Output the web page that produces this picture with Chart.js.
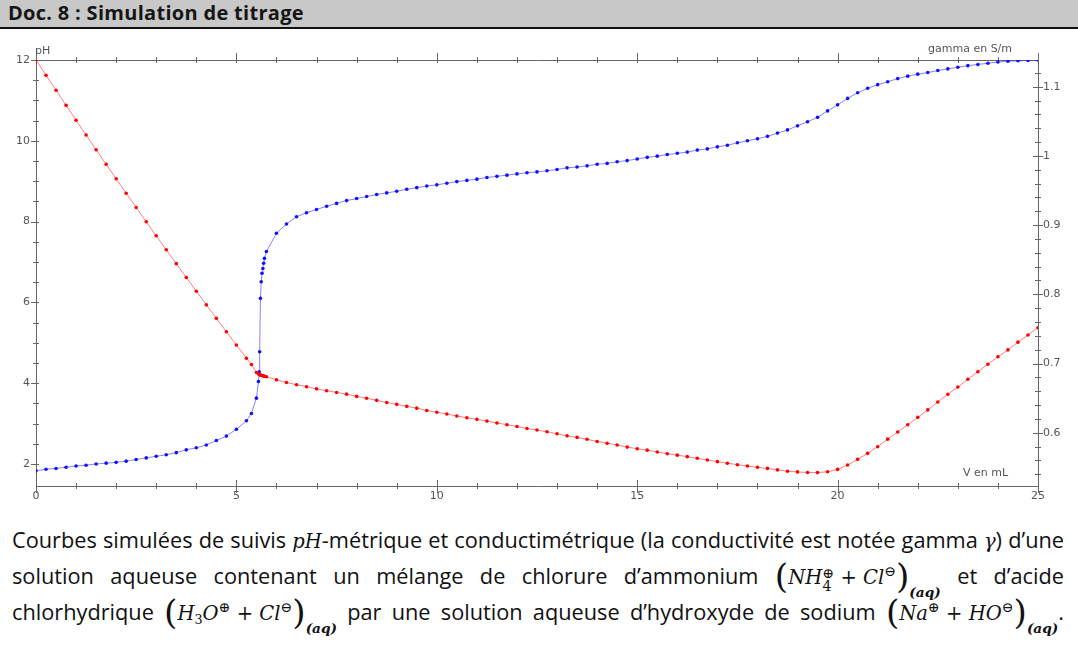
<!DOCTYPE html>
<html lang="fr">
<head>
<meta charset="utf-8">
<title>Doc. 8 : Simulation de titrage</title>
<script src="https://cdn.jsdelivr.net/npm/chart.js@4.4.1/dist/chart.umd.min.js"></script>
<style>
    html, body { margin: 0; padding: 0; background: #fff; }
    body { width: 1078px; height: 647px; position: relative; overflow: hidden; font-family: "Open Sans", Lato, sans-serif; }
    .doc-header { position: absolute; left: 0; top: 0; width: 1078px; height: 27px; background: #c8c8c8; border-bottom: 2px solid #111; }
    .doc-header span { position: absolute; left: 8px; top: -1px; font-weight: 700; font-size: 20px; color: #151515; letter-spacing: 0.3px; }
    #chart-box { position: absolute; left: 0; top: 32px; width: 1078px; height: 478px; }
    .axis-title { position: absolute; font-family: "DejaVu Sans", sans-serif; font-size: 11px; color: #555; white-space: nowrap; line-height: 13px; }
    .caption { position: absolute; left: 12px; top: 522px; width: 1052px; font-size: 19px; color: #111; }
    .caption .line { height: 36px; line-height: 36px; text-align: justify; text-align-last: justify; }
    .m { font-family: "DejaVu Serif", serif; font-style: italic; font-size: 0.9em; }
    .math { display: inline-block; white-space: nowrap; font-family: "DejaVu Serif", serif; font-size: 0.9em; }
    .math i { font-style: italic; }
    .p { font-size: 1.75em; font-weight: 300; vertical-align: -0.12em; line-height: 0; }
    .math sup { font-size: 0.72em; vertical-align: 0.55em; line-height: 0; }
    .math sub { font-size: 0.65em; vertical-align: -0.3em; line-height: 0; }
    .aq { font-size: 0.7em; font-style: italic; font-weight: 700; vertical-align: -0.95em; line-height: 0; }
    .ss { display: inline-flex; flex-direction: column; vertical-align: 0.45em; line-height: 0.8em; font-size: 0.72em; }
    .ss span { height: 0.95em; }
</style>
</head>
<body>
<div class="doc-header"><span>Doc. 8 : Simulation de titrage</span></div>

<div id="chart-box"><canvas id="titrage-chart" width="1078" height="478"></canvas></div>
<div class="axis-title" style="left:35px; top:44px;">pH</div>
<div class="axis-title" style="left:928px; top:42px;">gamma en S/m</div>
<div class="axis-title" style="left:963px; top:466px;">V en mL</div>

<div class="caption">
    <div class="line">Courbes simulées de suivis <span class="m">pH</span>-métrique et conductimétrique (la conductivité est notée gamma <span class="m">γ</span>) d’une</div>
    <div class="line">solution aqueuse contenant un mélange de chlorure d’ammonium <span class="math"><span class="p">(</span><i>NH</i><span class="ss"><span>⊕</span><span>4</span></span> + <i>Cl</i><sup>⊖</sup><span class="p">)</span><span class="aq">(aq)</span></span> et d’acide</div>
    <div class="line">chlorhydrique <span class="math"><span class="p">(</span><i>H</i><sub>3</sub><i>O</i><sup>⊕</sup> + <i>Cl</i><sup>⊖</sup><span class="p">)</span><span class="aq">(aq)</span></span> par une solution aqueuse d’hydroxyde de sodium <span class="math"><span class="p">(</span><i>Na</i><sup>⊕</sup> + <i>HO</i><sup>⊖</sup><span class="p">)</span><span class="aq">(aq)</span></span>.</div>
</div>

<script>
// Data
const volumes = [0, 0.25, 0.5, 0.75, 1, 1.25, 1.5, 1.75, 2, 2.25, 2.5, 2.75, 3, 3.25, 3.5, 3.75, 4, 4.25, 4.5, 4.75, 5, 5.25,
    5.375, 5.5, 5.55, 5.57, 5.58, 5.6, 5.62, 5.64, 5.66, 5.68, 5.7, 5.75,
    6, 6.25, 6.5, 6.75, 7, 7.25, 7.5, 7.75, 8, 8.25, 8.5, 8.75, 9, 9.25, 9.5, 9.75,
    10, 10.25, 10.5, 10.75, 11, 11.25, 11.5, 11.75, 12, 12.25, 12.5, 12.75, 13, 13.25, 13.5, 13.75, 14, 14.25, 14.5, 14.75,
    15, 15.25, 15.5, 15.75, 16, 16.25, 16.5, 16.75, 17, 17.25, 17.5, 17.75, 18, 18.25, 18.5, 18.75, 19, 19.25, 19.5, 19.75,
    20, 20.25, 20.5, 20.75, 21, 21.25, 21.5, 21.75, 22, 22.25, 22.5, 22.75, 23, 23.25, 23.5, 23.75, 24, 24.25, 24.5, 24.75, 25];

const phValues = [1.83, 1.87, 1.89, 1.92, 1.95, 1.97, 2.00, 2.02, 2.04, 2.07, 2.11, 2.15, 2.19, 2.23, 2.28, 2.35, 2.40, 2.47, 2.58, 2.69, 2.86, 3.07,
    3.25, 3.63, 4.04, 4.28, 4.78, 6.10, 6.51, 6.72, 6.84, 6.97, 7.09, 7.26,
    7.71, 7.94, 8.12, 8.22, 8.30, 8.38, 8.45, 8.52, 8.57, 8.62, 8.67, 8.71, 8.75, 8.80, 8.84, 8.88,
    8.91, 8.95, 8.99, 9.02, 9.05, 9.09, 9.12, 9.15, 9.18, 9.21, 9.23, 9.26, 9.29, 9.33, 9.35, 9.38, 9.42, 9.44, 9.48, 9.51,
    9.55, 9.59, 9.62, 9.66, 9.69, 9.72, 9.77, 9.80, 9.85, 9.89, 9.95, 10.00, 10.05, 10.11, 10.19, 10.27, 10.37, 10.47, 10.58, 10.74,
    10.89, 11.05, 11.19, 11.30, 11.39, 11.46, 11.54, 11.60, 11.65, 11.69, 11.74, 11.78, 11.82, 11.86, 11.89, 11.92, 11.95, 11.97, 11.98, 11.99, 12.00];

const gammaValues = [1.1386, 1.1166, 1.0948, 1.0731, 1.0516, 1.0302, 1.0090, 0.9879, 0.9669, 0.9461, 0.9255, 0.9049, 0.8846, 0.8643, 0.8443, 0.8243, 0.8045, 0.7848, 0.7653, 0.7460, 0.7267, 0.7077,
    0.6985, 0.6870, 0.6852, 0.6843, 0.6838, 0.6833, 0.6829, 0.6826, 0.6823, 0.6820, 0.6817, 0.6808,
    0.6764, 0.6725, 0.6694, 0.6665, 0.6634, 0.6607, 0.6582, 0.6557, 0.6525, 0.6497, 0.6468, 0.6436, 0.6410, 0.6381, 0.6355, 0.6322,
    0.6295, 0.6270, 0.6242, 0.6217, 0.6193, 0.6168, 0.6141, 0.6116, 0.6089, 0.6060, 0.6039, 0.6013, 0.5984, 0.5955, 0.5932, 0.5905, 0.5874, 0.5848, 0.5823, 0.5792,
    0.5769, 0.5748, 0.5721, 0.5697, 0.5676, 0.5654, 0.5630, 0.5606, 0.5582, 0.5559, 0.5538, 0.5519, 0.5500, 0.5484, 0.5463, 0.5444, 0.5434, 0.5425, 0.5424, 0.5436,
    0.5470, 0.5533, 0.5615, 0.5702, 0.5798, 0.5907, 0.6010, 0.6116, 0.6222, 0.6330, 0.6444, 0.6556, 0.6660, 0.6772, 0.6882, 0.6989, 0.7097, 0.7197, 0.7309, 0.7412, 0.7517];

const volumeTicks = [0, 5, 10, 15, 20, 25];
const phTicks = [2, 4, 6, 8, 10, 12];
const gammaTicks = [0.6, 0.7, 0.8, 0.9, 1, 1.1];

// Tick marks crossing the axis lines (minor + labelled)
const axisTicks = {
    id: 'axisTicks',
    beforeDatasetsDraw(chart) {
        const { ctx, chartArea: a, scales } = chart;
        ctx.save();
        ctx.strokeStyle = '#666';
        ctx.lineWidth = 1;
        ctx.beginPath();

        // volume axis, bottom and top
        for (let v = 0; v <= 25; v++) {
            const px = Math.round(scales.x.getPixelForValue(v)) + 0.5;
            const big = v % 5 === 0;
            ctx.moveTo(px, a.bottom - (big ? 6 : 3));
            ctx.lineTo(px, a.bottom + (big ? 7 : 3));
            ctx.moveTo(px, a.top - (big ? 7 : 3));
            ctx.lineTo(px, a.top + 3);
        }

        // pH axis, every 0.5
        for (let k = 4; k <= 24; k++) {
            const py = Math.round(scales.y.getPixelForValue(k / 2)) + 0.5;
            const big = k % 4 === 0;
            ctx.moveTo(a.left - (big ? 5 : 3), py);
            ctx.lineTo(a.left + 3, py);
        }

        // gamma axis, every 0.02
        for (let k = 27; k <= 56; k++) {
            const py = Math.round(scales.y2.getPixelForValue(k / 50)) + 0.5;
            const big = k % 5 === 0;
            ctx.moveTo(a.right - (big ? 5 : 3), py);
            ctx.lineTo(a.right + (big ? 5 : 3), py);
        }

        ctx.stroke();
        ctx.restore();
    }
};

// Size the caption font so its longest line fills the text width, like the original
function fitCaption() {
    const caption = document.querySelector('.caption');
    caption.style.fontSize = '19px';
    let widest = 0;
    caption.querySelectorAll('.line').forEach(line => {
        const probe = line.cloneNode(true);
        probe.style.cssText = 'position:absolute; visibility:hidden; white-space:nowrap; display:inline-block; width:auto; text-align:left; text-align-last:auto;';
        caption.appendChild(probe);
        widest = Math.max(widest, probe.getBoundingClientRect().width);
        caption.removeChild(probe);
    });
    if (widest > 0) {
        caption.style.fontSize = (19 * 1046 / widest).toFixed(2) + 'px';
    }
}

function setupChart() {
    const canvas = document.getElementById('titrage-chart');
    const ctx = canvas.getContext('2d');

    const phPoints = volumes.map((v, i) => ({ x: v, y: phValues[i] }));
    const gammaPoints = volumes.map((v, i) => ({ x: v, y: gammaValues[i] }));

    const tickFont = { family: 'DejaVu Sans', size: 11 };
    const tickColor = '#555';
    const borderStyle = { display: true, color: '#666', width: 1 };
    const noGrid = { display: false, drawTicks: false, tickLength: 0 };

    new Chart(ctx, {
        type: 'line',
        data: {
            datasets: [
                {
                    label: 'gamma',
                    data: gammaPoints,
                    yAxisID: 'y2',
                    borderColor: 'rgba(255, 40, 40, 0.6)',
                    backgroundColor: '#f00',
                    borderWidth: 1,
                    pointRadius: 1.8,
                    pointBorderWidth: 0,
                    tension: 0
                },
                {
                    label: 'pH',
                    data: phPoints,
                    yAxisID: 'y',
                    borderColor: 'rgba(50, 50, 255, 0.6)',
                    backgroundColor: '#1010ff',
                    borderWidth: 1,
                    pointRadius: 1.8,
                    pointBorderWidth: 0,
                    tension: 0
                }
            ]
        },
        options: {
            responsive: false,
            animation: false,
            events: [],
            layout: { padding: 0 },
            plugins: {
                legend: { display: false },
                tooltip: { enabled: false }
            },
            scales: {
                x: {
                    type: 'linear',
                    position: 'bottom',
                    min: 0,
                    max: 25,
                    grid: noGrid,
                    border: borderStyle,
                    afterBuildTicks: axis => { axis.ticks = volumeTicks.map(v => ({ value: v })); },
                    afterFit: axis => { axis.height = 24; },
                    ticks: { autoSkip: false, maxRotation: 0, padding: 4, font: tickFont, color: tickColor,
                        callback: v => String(v) }
                },
                x2: {
                    type: 'linear',
                    position: 'top',
                    min: 0,
                    max: 25,
                    grid: noGrid,
                    border: borderStyle,
                    ticks: { display: false },
                    afterFit: axis => { axis.height = 28; }
                },
                y: {
                    type: 'linear',
                    position: 'left',
                    min: 1.455,
                    max: 12,
                    grid: noGrid,
                    border: borderStyle,
                    afterBuildTicks: axis => { axis.ticks = phTicks.map(v => ({ value: v })); },
                    afterFit: axis => { axis.width = 36; },
                    ticks: { autoSkip: false, padding: 6, font: tickFont, color: tickColor,
                        callback: v => String(v) }
                },
                y2: {
                    type: 'linear',
                    position: 'right',
                    min: 0.523,
                    max: 1.1386,
                    grid: noGrid,
                    border: borderStyle,
                    afterBuildTicks: axis => { axis.ticks = gammaTicks.map(v => ({ value: v })); },
                    afterFit: axis => { axis.width = 40; },
                    ticks: { autoSkip: false, padding: 5, font: tickFont, color: tickColor,
                        callback: v => String(Math.round(v * 10) / 10) }
                }
            }
        },
        plugins: [axisTicks]
    });
}

document.addEventListener('DOMContentLoaded', function() {
    fitCaption();
    setupChart();
    if (document.fonts && document.fonts.ready) {
        document.fonts.ready.then(fitCaption);
    }
});
</script>
</body>
</html>
